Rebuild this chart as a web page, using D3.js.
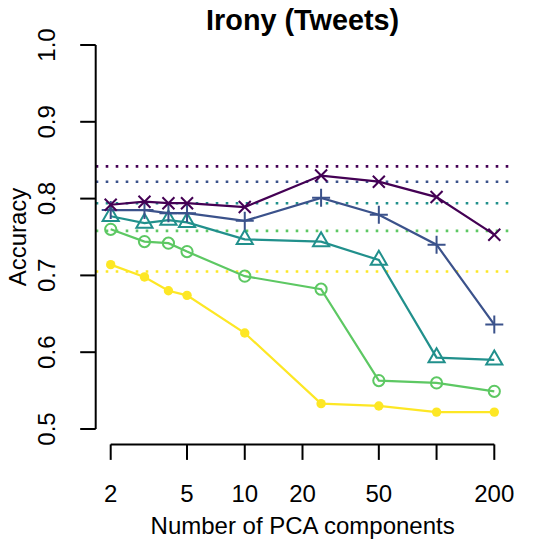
<!DOCTYPE html>
<html>
<head>
<meta charset="utf-8">
<script src="https://cdn.jsdelivr.net/npm/d3@7/dist/d3.min.js"></script>
<style>
  body { margin: 0; background: #fff; }
  text { font-family: "Liberation Sans", Arial, Helvetica, sans-serif; fill: #000; }
</style>
</head>
<body>
<svg id="chart"></svg>
<script>
// data
var components = [2, 3, 4, 5, 10, 25, 50, 100, 200];
var accPurple = [0.792, 0.796, 0.794, 0.794, 0.789, 0.830, 0.822, 0.802, 0.753];
var accBlue   = [0.785, 0.785, 0.781, 0.781, 0.771, 0.801, 0.779, 0.740, 0.636];
var accTeal   = [0.777, 0.768, 0.772, 0.769, 0.747, 0.744, 0.720, 0.593, 0.590];
var accGreen  = [0.760, 0.744, 0.742, 0.731, 0.699, 0.682, 0.563, 0.560, 0.549];
var accYellow = [0.714, 0.698, 0.680, 0.674, 0.625, 0.533, 0.530, 0.522, 0.522];
var baselines = [0.842, 0.822, 0.794, 0.758, 0.705];   // dotted reference lines
var seriesColors = ['#440154', '#3B528B', '#21908C', '#5DC863', '#FDE725'];
var seriesShapes = ['cross', 'plus', 'triangle', 'circle', 'dot'];
var xTicks = [2, 5, 10, 20, 50, 100, 200];
var xTickLabels = ['2', '5', '10', '20', '50', '', '200'];
var yTicks = [0.5, 0.6, 0.7, 0.8, 0.9, 1.0];

var vWidth = 540, vHeight = 540;
var plotLeft = 95.7, plotRight = 509.6, plotTop = 29.6, plotBottom = 444.4;

var x = d3.scaleLog().domain([2, 200]).range([110.7, 494.3]);
var y = d3.scaleLinear().domain([0.5, 1.0]).range([429, 45]);

var svg = d3.select('#chart')
    .attr('width', vWidth)
    .attr('height', vHeight);

// dotted horizontal reference lines (abline style, whole plot width)
svg.append('g').selectAll('line')
    .data(baselines)
    .enter().append('line')
    .attr('x1', plotLeft)
    .attr('x2', plotRight)
    .attr('y1', function (d) { return y(d); })
    .attr('y2', function (d) { return y(d); })
    .attr('stroke', function (d, i) { return seriesColors[i]; })
    .attr('stroke-width', 2.6)
    .attr('stroke-dasharray', '2.6,7.4');

// series, yellow first so purple ends on top
var allSeries = [accPurple, accBlue, accTeal, accGreen, accYellow];
var lineGen = d3.line()
    .x(function (d) { return x(d.n); })
    .y(function (d) { return y(d.v); });

function markerPath(shape) {
  var r = 6;
  if (shape === 'cross') return 'M' + (-r) + ',' + (-r) + 'L' + r + ',' + r + 'M' + (-r) + ',' + r + 'L' + r + ',' + (-r);
  if (shape === 'plus') { var p = 9; return 'M' + (-p) + ',0L' + p + ',0M0,' + (-p) + 'L0,' + p; }
  if (shape === 'triangle') {
    var tr = 1.5551 * r, xc = tr * Math.sqrt(3) / 2, yc = tr / 2;
    return 'M0,' + (-tr) + 'L' + xc + ',' + yc + 'L' + (-xc) + ',' + yc + 'Z';
  }
  return null;
}

for (var s = allSeries.length - 1; s >= 0; s--) {
  var pts = components.map(function (n, i) { return { n: n, v: allSeries[s][i] }; });
  var col = seriesColors[s], shape = seriesShapes[s];
  var g = svg.append('g');

  g.append('path')
    .datum(pts)
    .attr('d', lineGen)
    .attr('fill', 'none')
    .attr('stroke', col)
    .attr('stroke-width', 2.2);

  var marks = g.selectAll('.mk')
    .data(pts)
    .enter();

  if (shape === 'circle') {
    marks.append('circle')
      .attr('cx', function (d) { return x(d.n); })
      .attr('cy', function (d) { return y(d.v); })
      .attr('r', 5.6)
      .attr('fill', 'none')
      .attr('stroke', col)
      .attr('stroke-width', 2);
  } else if (shape === 'dot') {
    marks.append('circle')
      .attr('cx', function (d) { return x(d.n); })
      .attr('cy', function (d) { return y(d.v); })
      .attr('r', 4.7)
      .attr('fill', col);
  } else {
    marks.append('path')
      .attr('transform', function (d) { return 'translate(' + x(d.n) + ',' + y(d.v) + ')'; })
      .attr('d', markerPath(shape))
      .attr('fill', 'none')
      .attr('stroke', col)
      .attr('stroke-width', 2);
  }
}

// x axis, R style: line between outer ticks only
var xAxis = svg.append('g').attr('transform', 'translate(0,' + plotBottom + ')');
xAxis.append('line')
    .attr('x1', x(xTicks[0])).attr('x2', x(xTicks[xTicks.length - 1]))
    .attr('stroke', '#000').attr('stroke-width', 2);
xAxis.selectAll('.tk')
    .data(xTicks)
    .enter().append('line')
    .attr('x1', function (d) { return x(d); })
    .attr('x2', function (d) { return x(d); })
    .attr('y1', 0).attr('y2', 15.5)
    .attr('stroke', '#000').attr('stroke-width', 2);
xAxis.selectAll('.lb')
    .data(xTicks)
    .enter().append('text')
    .attr('x', function (d) { return x(d); })
    .attr('y', 58)
    .attr('text-anchor', 'middle')
    .attr('font-size', 24)
    .text(function (d, i) { return xTickLabels[i]; });

// y axis
var yAxis = svg.append('g').attr('transform', 'translate(' + plotLeft + ',0)');
yAxis.append('line')
    .attr('y1', y(yTicks[0])).attr('y2', y(yTicks[yTicks.length - 1]))
    .attr('stroke', '#000').attr('stroke-width', 2);
yAxis.selectAll('.tk')
    .data(yTicks)
    .enter().append('line')
    .attr('y1', function (d) { return y(d); })
    .attr('y2', function (d) { return y(d); })
    .attr('x1', 0).attr('x2', -15.5)
    .attr('stroke', '#000').attr('stroke-width', 2);
yAxis.selectAll('.lb')
    .data(yTicks)
    .enter().append('text')
    .attr('transform', function (d) { return 'translate(-41,' + y(d) + ')rotate(-90)'; })
    .attr('text-anchor', 'middle')
    .attr('font-size', 24)
    .text(function (d) { return d3.format('.1f')(d); });

// titles
svg.append('text')
    .attr('x', (plotLeft + plotRight) / 2)
    .attr('y', 30)
    .attr('text-anchor', 'middle')
    .attr('font-size', 28.8)
    .attr('font-weight', 'bold')
    .text('Irony (Tweets)');

svg.append('text')
    .attr('x', (plotLeft + plotRight) / 2)
    .attr('y', 534)
    .attr('text-anchor', 'middle')
    .attr('font-size', 24)
    .text('Number of PCA components');

svg.append('text')
    .attr('transform', 'translate(26,' + (plotTop + plotBottom) / 2 + ')rotate(-90)')
    .attr('text-anchor', 'middle')
    .attr('font-size', 24)
    .text('Accuracy');
</script>
</body>
</html>
